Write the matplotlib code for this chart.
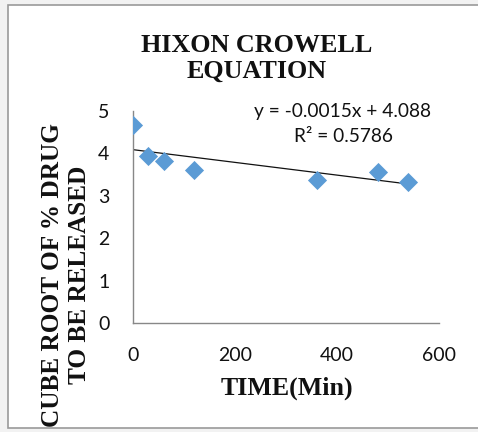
import numpy as np
import matplotlib
matplotlib.use("Agg")
import matplotlib.pyplot as plt
from matplotlib.patches import Rectangle

time_min = [0, 30, 60, 120, 360, 480, 540]
cube_root = [4.67, 3.94, 3.83, 3.61, 3.37, 3.55, 3.33]
slope, intercept = -0.0015, 4.088
eq_text = "y = -0.0015x + 4.088"
r2_text = "R² = 0.5786"
x_ticks = [0, 200, 400, 600]
y_ticks = [0, 1, 2, 3, 4, 5]

W, H = 478, 432
fig = plt.figure(figsize=(W/100, H/100), dpi=100, facecolor="#f2f2f2")
fig.patches.append(Rectangle((8/W, 4/H), 1, (428-5)/H, transform=fig.transFigure,
                             facecolor="white", edgecolor="#9a9a9a", linewidth=1.2, zorder=-5))

ax = fig.add_axes([133/W, 1-323/H, (439-133)/W, (323-111)/H])
ax.set_facecolor("none")
ax.set_xlim(0, 600)
ax.set_ylim(0, 5)
ax.set_xticks(x_ticks)
ax.set_yticks(y_ticks)
for s in ["top", "right"]:
    ax.spines[s].set_visible(False)
for s in ["left", "bottom"]:
    ax.spines[s].set_color("#888888")
    ax.spines[s].set_linewidth(1.0)
ax.tick_params(length=0, labelsize=14, colors="#111111", pad=17)
ax.tick_params(axis="y", pad=17)
for lab in ax.get_xticklabels() + ax.get_yticklabels():
    lab.set_family("Lato")

xs = np.array([min(time_min), max(time_min)])
ax.plot(xs, slope*xs + intercept, color="#111111", linewidth=0.9, zorder=2)
ax.scatter(time_min, cube_root, marker="D", s=95, color="#5b9bd5", zorder=3, linewidths=0)

fig.text(343/W, 1-111/H, eq_text, ha="center", va="center",
         fontsize=13.8, family="Lato", color="#111111")
fig.text(343/W, 1-137/H, r2_text, ha="center", va="center",
         fontsize=13.8, family="Lato", color="#111111")

fig.text(257/W, 1-58/H, "HIXON CROWELL\nEQUATION", ha="center", va="center",
         fontsize=18.8, fontweight="bold", family="Liberation Serif", linespacing=1.15, color="#111111")
fig.text(287/W, 1-388/H, "TIME(Min)", ha="center", va="center",
         fontsize=18.6, fontweight="bold", family="Liberation Serif", color="#111111")
fig.text(66/W, 1-275/H, "CUBE ROOT OF % DRUG\nTO BE RELEASED", ha="center", va="center",
         rotation=90, fontsize=18.2, fontweight="bold", family="Liberation Serif",
         linespacing=1.2, color="#111111")

fig.savefig("out.png", dpi=100, facecolor=fig.get_facecolor())
